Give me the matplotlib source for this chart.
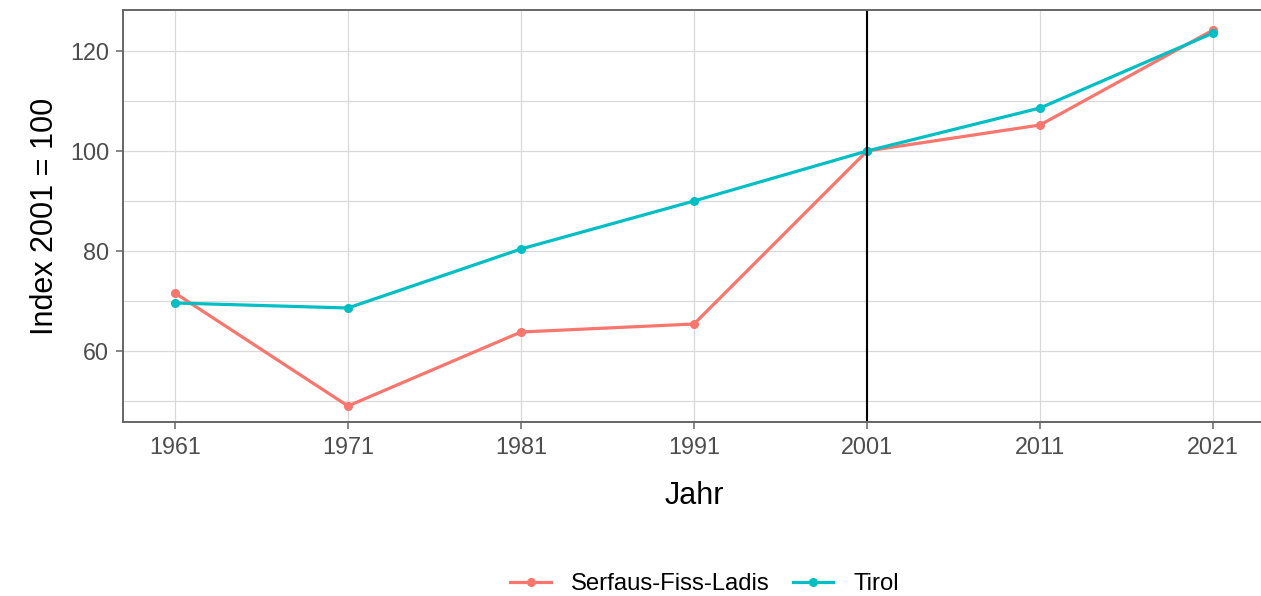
import numpy as np
import matplotlib
matplotlib.use("Agg")
import matplotlib.pyplot as plt
from matplotlib.ticker import MultipleLocator

plt.rcParams['font.family'] = ['Liberation Sans', 'DejaVu Sans']

years = [1961, 1971, 1981, 1991, 2001, 2011, 2021]
serfaus = [71.6, 49.0, 63.8, 65.4, 100.0, 105.2, 124.2]
tirol = [69.6, 68.6, 80.4, 90.0, 100.0, 108.6, 123.6]
series_names = ["Serfaus-Fiss-Ladis", "Tirol"]
colors = ["#F8766D", "#00BFC4"]

W, H = 1261, 596
fig = plt.figure(figsize=(W / 100, H / 100), dpi=100)
# panel in pixel coords: left 123, right 1265, top 10, bottom 422
ax = fig.add_axes([123 / W, 1 - 422 / H, (1265 - 123) / W, (422 - 10) / H])

ax.set_xlim(1958, 2024)
ax.set_ylim(45.8, 128.2)
ax.set_xticks(years)
ax.yaxis.set_major_locator(MultipleLocator(20))
ax.yaxis.set_minor_locator(MultipleLocator(10))

ax.grid(True, which='both', color='#D9D9D9', lw=0.9)
ax.set_axisbelow(True)

for vals, name, c in zip([serfaus, tirol], series_names, colors):
    ax.plot(years, vals, color=c, lw=2.3, marker='o', ms=5.5, label=name)

ax.axvline(2001, color='black', lw=1.5)

for s in ax.spines.values():
    s.set_color('#666666')
    s.set_linewidth(1.4)

ax.tick_params(axis='both', which='major', labelsize=16.8, labelcolor='#4D4D4D',
               color='#666666', length=5, width=1.1, pad=5)
ax.tick_params(axis='y', which='minor', length=0)

ax.set_xlabel("Jahr", fontsize=22, labelpad=16)
ax.set_ylabel("Index 2001 = 100", fontsize=22, labelpad=7)

handles, labels = ax.get_legend_handles_labels()
fig.legend(handles, labels, loc='center', bbox_to_anchor=(0.559, 1 - 584 / H),
           ncol=2, frameon=False, fontsize=17.2, handlelength=1.7,
           handletextpad=0.85, columnspacing=0.95, borderpad=0)

fig.savefig("out.png", dpi=100)
